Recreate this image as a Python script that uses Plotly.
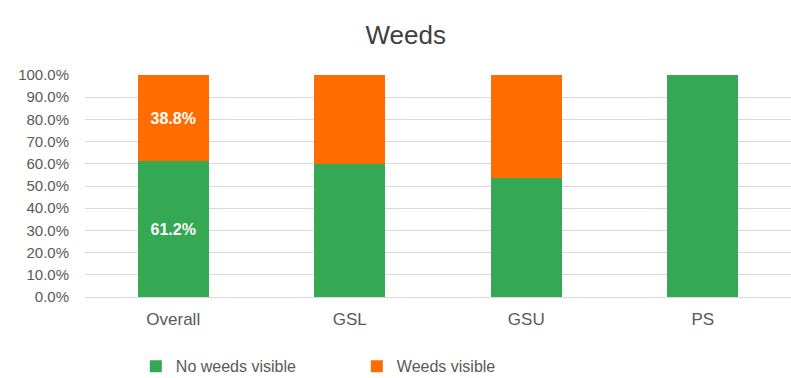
import plotly.graph_objects as go

categories = ["Overall", "GSL", "GSU", "PS"]
no_weeds = [0.612, 0.600, 0.535, 1.000]
weeds = [0.388, 0.400, 0.465, 0.000]
no_weeds_labels = ["61.2%", "", "", ""]
weeds_labels = ["38.8%", "", "", ""]

GREEN = "#34A853"
ORANGE = "#FF6D01"
FONT = "Liberation Sans, Arial, sans-serif"

fig = go.Figure()
fig.add_trace(go.Bar(
    x=categories, y=no_weeds, name="No weeds visible",
    marker=dict(color=GREEN, line=dict(width=0)),
    text=no_weeds_labels, textposition="inside", insidetextanchor="middle",
    textfont=dict(color="white", size=16, family=FONT, weight="bold"),
    hoverinfo="skip",
))
fig.add_trace(go.Bar(
    x=categories, y=weeds, name="Weeds visible",
    marker=dict(color=ORANGE, line=dict(width=0)),
    text=weeds_labels, textposition="inside", insidetextanchor="middle",
    textfont=dict(color="white", size=16, family=FONT, weight="bold"),
    hoverinfo="skip",
))

fig.update_layout(
    barmode="stack",
    bargap=0.6,
    width=791, height=378,
    margin=dict(l=85, r=0, t=75, b=81, autoexpand=False),
    paper_bgcolor="white",
    plot_bgcolor="white",
    font=dict(family=FONT, color="#595959", size=14),
    title=dict(text="Weeds", x=0.513, xanchor="center", y=0.907, yanchor="middle",
               font=dict(size=26, color="#404040", family=FONT)),
    uniformtext=dict(mode=False),
    showlegend=True,
    legend=dict(orientation="h", x=0.072, xanchor="left", y=-0.312, yanchor="middle",
                font=dict(size=16, color="#595959", family=FONT),
                entrywidth=176, entrywidthmode="pixels",
                itemwidth=30, traceorder="normal"),
)
fig.update_yaxes(range=[0, 1], dtick=0.1, tickformat=".1%",
                 showgrid=True, gridcolor="#d9d9d9", gridwidth=1,
                 zeroline=True, zerolinecolor="#d9d9d9", zerolinewidth=1,
                 ticks="", ticklabelstandoff=15,
                 tickfont=dict(size=15, color="#595959"))
fig.update_xaxes(showline=False, ticks="", ticklabelstandoff=10,
                 tickfont=dict(size=17, color="#595959"))

fig.write_html("out.html")
